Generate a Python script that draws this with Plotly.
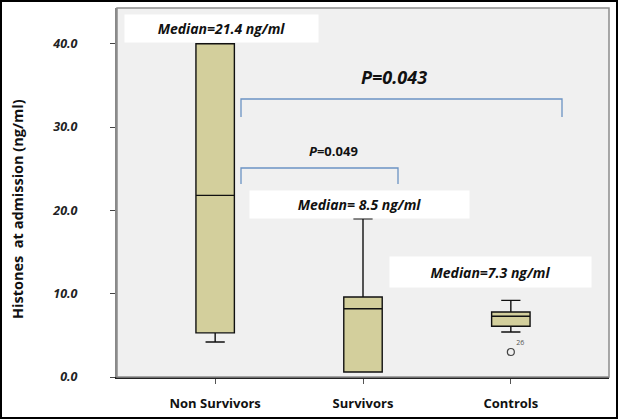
import plotly.graph_objects as go

# ---- data ----
groups = ["Non Survivors", "Survivors", "Controls"]
q1 = [5.3, 0.6, 6.1]
medians = [21.8, 8.2, 7.3]
q3 = [40.0, 9.6, 7.8]
lower_whisker = [4.2, 0.6, 5.4]
upper_whisker = [40.0, 19.0, 9.2]
outlier_group = [2]
outlier_value = [3.0]
outlier_label = ["26"]
median_labels = ["Median=21.4 ng/ml", "Median= 8.5 ng/ml", "Median=7.3 ng/ml"]
p_labels = ["<i>P</i>=0.049", "<i>P=0.043</i>"]
y_ticks = [0, 10, 20, 30, 40]

W, H = 619, 420
L, R, T, B = 117, 609, 8, 377  # plot area in pixels


def px(x):
    return (x - L) / (R - L)


def py(y):
    return (B - y) / (B - T)


FONT = "Open Sans"
BOX_FILL = "#d3cf9c"

fig = go.Figure()
for i, g in enumerate(groups):
    fig.add_trace(go.Box(
        x=[i], q1=[q1[i]], median=[medians[i]], q3=[q3[i]],
        lowerfence=[lower_whisker[i]], upperfence=[upper_whisker[i]],
        width=0.26, whiskerwidth=0.5,
        fillcolor=BOX_FILL, line=dict(color="#111111", width=1.4),
        boxpoints=False, showlegend=False, hoverinfo="skip",
    ))

fig.add_trace(go.Scatter(
    x=outlier_group, y=outlier_value, mode="markers+text",
    marker=dict(symbol="circle-open", size=7, color="#444444", line=dict(width=1.2)),
    text=outlier_label, textposition="top right",
    textfont=dict(family=FONT, size=7, color="#555555"),
    showlegend=False, hoverinfo="skip",
))

shapes = []
# outer image border
shapes.append(dict(type="rect", xref="paper", yref="paper",
                   x0=px(1), x1=px(W - 2), y0=py(H - 2), y1=py(1),
                   line=dict(color="#000000", width=2), layer="above"))
# thin frame of plot area (top/right)
shapes.append(dict(type="rect", xref="paper", yref="paper",
                   x0=0, x1=1, y0=0, y1=1,
                   line=dict(color="#8c8c8c", width=1.5), layer="above"))
# significance brackets
BR = "#6b93c3"
shapes.append(dict(type="path", xref="paper", yref="paper",
                   path=f"M {px(241)},{py(117)} L {px(241)},{py(99)} L {px(562)},{py(99)} L {px(562)},{py(117)}",
                   line=dict(color=BR, width=1.3)))
shapes.append(dict(type="path", xref="paper", yref="paper",
                   path=f"M {px(241)},{py(184)} L {px(241)},{py(168)} L {px(398)},{py(168)} L {px(398)},{py(184)}",
                   line=dict(color=BR, width=1.3)))

annotations = []
# median label boxes (left, right, top, bottom in pixels)
med_boxes = [(125, 318, 15, 42), (250, 469, 191, 218), (390, 591, 257, 287)]
for txt, (x0, x1, y0, y1) in zip(median_labels, med_boxes):
    annotations.append(dict(
        xref="paper", yref="paper", x=px((x0 + x1) / 2), y=py((y0 + y1) / 2),
        xanchor="center", yanchor="middle", text=f"<b><i>{txt}</i></b>",
        width=x1 - x0, height=y1 - y0, bgcolor="#ffffff", borderpad=0,
        showarrow=False, font=dict(family=FONT, size=14, color="#111111"),
    ))
# p-values
annotations.append(dict(xref="paper", yref="paper", x=px(333), y=py(151),
                        xanchor="center", yanchor="middle", text=f"<b>{p_labels[0]}</b>",
                        showarrow=False, font=dict(family=FONT, size=13, color="#111111")))
annotations.append(dict(xref="paper", yref="paper", x=px(394), y=py(77),
                        xanchor="center", yanchor="middle", text=f"<b>{p_labels[1]}</b>",
                        showarrow=False, font=dict(family=FONT, size=18, color="#111111")))
# y-axis title
annotations.append(dict(xref="paper", yref="paper", x=px(17), y=py(209),
                        xanchor="center", yanchor="middle", textangle=-90,
                        text="<b>Histones  at admission (ng/ml)</b>",
                        showarrow=False, font=dict(family=FONT, size=14.5, color="#111111")))

fig.update_layout(
    width=W, height=H,
    margin=dict(l=L, r=W - R, t=T, b=H - B, pad=0),
    paper_bgcolor="#ffffff", plot_bgcolor="#f0f0f0",
    shapes=shapes, annotations=annotations,
    xaxis=dict(
        range=[-0.664, 2.664], tickvals=list(range(len(groups))), ticktext=groups,
        showgrid=False, zeroline=False, showline=True, linecolor="#222222", linewidth=2,
        ticks="outside", ticklen=5, tickcolor="#555555", tickwidth=1,
        ticklabelstandoff=8,
        tickfont=dict(family=FONT, size=13, color="#111111", weight="bold"),
    ),
    yaxis=dict(
        range=[0, 44.3], tickvals=y_ticks, tickformat=".1f",
        showgrid=False, zeroline=False, showline=True, linecolor="#888888", linewidth=2,
        ticks="outside", ticklen=5, tickcolor="#444444", tickwidth=1,
        ticklabelstandoff=30,
        tickfont=dict(family=FONT, size=12.5, color="#222222", weight="bold", style="italic"),
    ),
)

fig.write_html("out.html", config={"displayModeBar": False},
               post_script="document.body.style.margin='0';")
